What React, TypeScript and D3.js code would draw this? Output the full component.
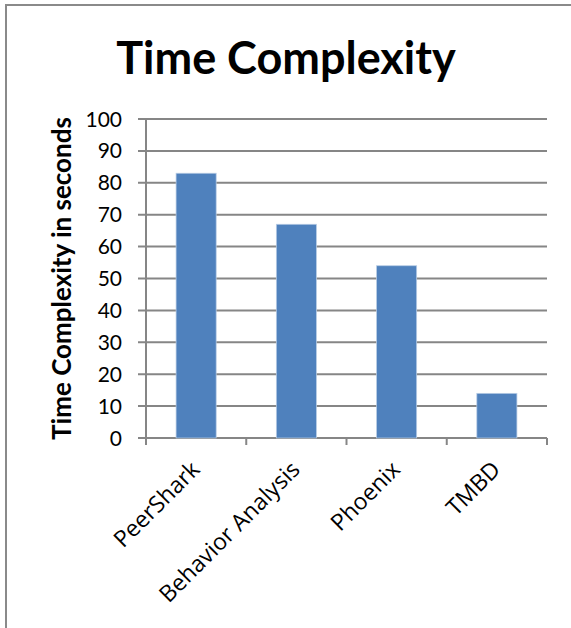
import React from "react";
import * as d3 from "d3";

const categories = ["PeerShark", "Behavior Analysis", "Phoenix", "TMBD"];
const values = [83, 67, 54, 14];
const yTicks = [0, 10, 20, 30, 40, 50, 60, 70, 80, 90, 100];
const title = "Time Complexity";
const yTitle = "Time Complexity in seconds";

const W = 571;
const H = 628;
const left = 146;
const right = 547;
const top = 119;
const bottom = 438;
const FONT = "Lato, Carlito, Calibri, sans-serif";
const LABEL_FONT = "'Open Sans', Lato, sans-serif";

export default function App() {
  const x = d3.scaleBand<string>().domain(categories).range([left, right]).paddingInner(0).paddingOuter(0);
  const y = d3.scaleLinear().domain([0, 100]).range([bottom, top]);
  const bw = x.bandwidth() * 0.4;
  const edges = categories.map((c) => x(c)!).concat([right]);
  return (
    <svg width={W} height={H} style={{ position: "absolute", left: 0, top: 0, background: "#fff" }}>
      <rect x={0} y={0} width={W} height={H} fill="#fff" />
      <path d={`M6,${H} L6,5 L${W},5`} fill="none" stroke="#8a8a8a" strokeWidth={2} />
      <text x={286} y={74} textAnchor="middle" fontFamily={FONT} fontWeight="bold" fontSize={45} fill="#000">
        {title}
      </text>
      {yTicks.map((t) => (
        <g key={t}>
          <line x1={left - 8} x2={right} y1={y(t)} y2={y(t)} stroke="#868686" strokeWidth={2} />
          <text x={122} y={y(t)} dy="0.36em" textAnchor="end" fontFamily={FONT} fontSize={21} fill="#000">
            {t}
          </text>
        </g>
      ))}
      <line x1={left} x2={left} y1={top} y2={bottom + 7} stroke="#868686" strokeWidth={2} />
      {edges.map((e, i) => (
        <line key={i} x1={e} x2={e} y1={bottom} y2={bottom + 7} stroke="#868686" strokeWidth={2} />
      ))}
      {categories.map((c, i) => (
        <rect
          key={c}
          x={x(c)! + (x.bandwidth() - bw) / 2}
          y={y(values[i])}
          width={bw}
          height={bottom - y(values[i])}
          fill="#4F81BD"
          stroke="#B9CDE5"
          strokeWidth={0.75}
        />
      ))}
      {categories.map((c) => {
        const cx = x(c)! + x.bandwidth() / 2 + 5;
        const cy = bottom + 33;
        return (
          <text
            key={c}
            x={cx}
            y={cy}
            textAnchor="end"
            transform={`rotate(-45, ${cx}, ${cy})`}
            fontFamily={LABEL_FONT}
            fontSize={23}
            fill="#000"
          >
            {c}
          </text>
        );
      })}
      <text
        transform={`translate(71, ${(top + bottom) / 2}) rotate(-90)`}
        textAnchor="middle"
        fontFamily={FONT}
        fontWeight="bold"
        fontSize={26}
        fill="#000"
      >
        {yTitle}
      </text>
    </svg>
  );
}
